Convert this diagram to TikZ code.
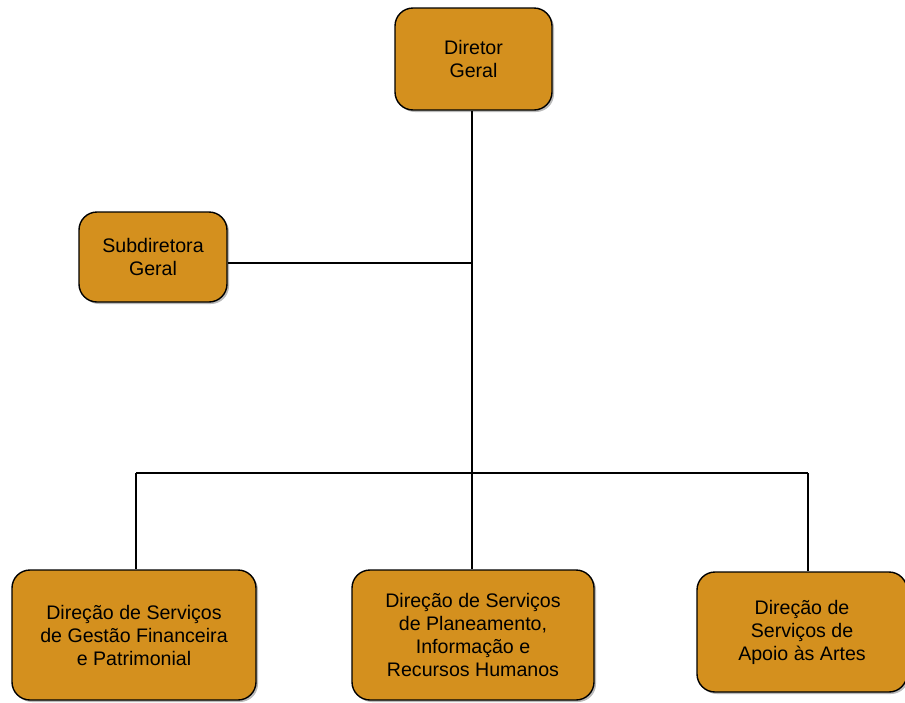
\documentclass[tikz,border=0pt]{standalone}
\usepackage{fontspec}
\setmainfont{Liberation Sans}
\usetikzlibrary{shadows}
\definecolor{boxfill}{HTML}{D4901E}
\begin{document}
\begin{tikzpicture}[x=1pt,y=-1pt,
  orgbox/.style={draw=black, line width=1.4pt, fill=boxfill, rounded corners=18pt,
    align=center, font=\fontsize{19.6}{23}\selectfont, inner sep=0pt,
    drop shadow={shadow xshift=2pt, shadow yshift=-2pt, fill=black!45, opacity=0.6}},
  link/.style={draw=black, line width=1.3pt}]
\useasboundingbox (0,0) rectangle (905,702);
\node[orgbox, minimum width=157pt, minimum height=102pt] (dg) at (473.5,59) {Diretor\\Geral};
\node[orgbox, minimum width=148pt, minimum height=90pt] (sg) at (153,257) {Subdiretora\\Geral};
\node[orgbox, minimum width=244pt, minimum height=130pt] (dgf) at (134,635) {Direção de Serviços\\de Gestão Financeira\\e Patrimonial};
\node[orgbox, minimum width=242pt, minimum height=130pt] (dpi) at (473,635) {Direção de Serviços\\de Planeamento,\\Informação e\\Recursos Humanos};
\node[orgbox, minimum width=210pt, minimum height=120pt] (daa) at (802,632) {Direção de\\Serviços de\\Apoio às Artes};
\coordinate (hub) at (472,473);
\coordinate (sj) at (472,263);
\coordinate (hl) at (136,473);
\coordinate (hr) at (808,473);
\draw[link] (dg.south -| hub) -- (hub);
\draw[link] (sg.east |- sj) -- (sj);
\draw[link] (hl) -- (hr);
\draw[link] (hl) -- (hl |- dgf.north);
\draw[link] (hub) -- (hub |- dpi.north);
\draw[link] (hr) -- (hr |- daa.north);
\end{tikzpicture}
\end{document}
